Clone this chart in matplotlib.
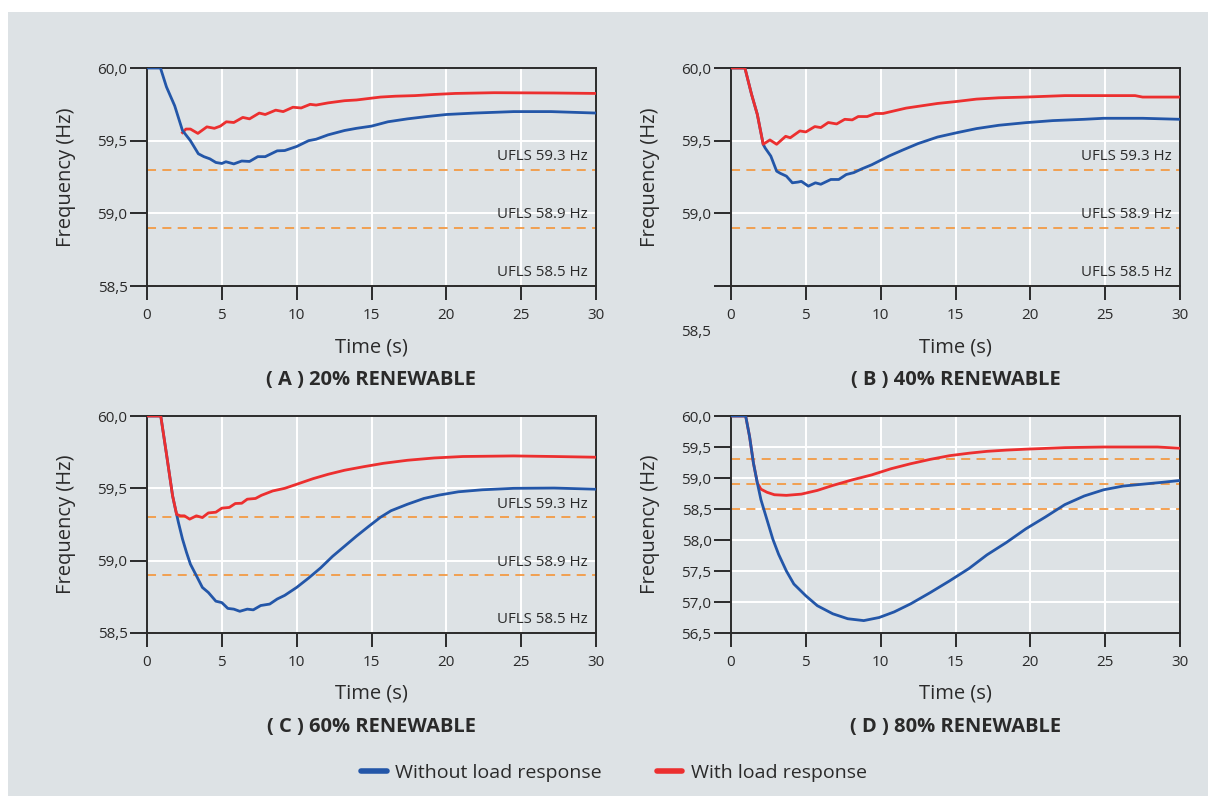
import matplotlib
matplotlib.use("Agg")
import matplotlib.pyplot as plt
from matplotlib.lines import Line2D

plt.rcParams['font.family'] = ['Open Sans', 'DejaVu Sans']

# ---------------- data ----------------
A_blue_t = [0, 0.9, 1.3, 1.85, 2.37, 2.9, 3.43, 3.8, 4.2, 4.6, 5.0, 5.27, 5.8, 6.33, 6.85, 7.4, 7.9, 8.7, 9.2, 10,
            10.8, 11.3, 12.1, 13.2, 14, 15, 16.1, 17.4, 18.7, 20, 21.9, 24.5, 27, 30]
A_blue_f = [60, 60, 59.87, 59.74, 59.57, 59.50, 59.41, 59.39, 59.375, 59.35, 59.343, 59.355, 59.34, 59.36, 59.357,
            59.39, 59.39, 59.43, 59.432, 59.46, 59.50, 59.51, 59.54, 59.57, 59.585, 59.60, 59.63, 59.65, 59.666,
            59.68, 59.69, 59.70, 59.70, 59.69]
A_red_t = [2.37, 2.6, 2.9, 3.4, 4.0, 4.5, 4.9, 5.3, 5.8, 6.4, 6.85, 7.5, 7.9, 8.6, 9.1, 9.75, 10.3, 10.9,
           11.3, 12.1, 13.2, 14, 14.8, 15.6, 16.6, 17.9, 19.2, 20.6, 23.2, 27.2, 30]
A_red_f = [59.555, 59.58, 59.58, 59.55, 59.595, 59.585, 59.60, 59.63, 59.625, 59.66, 59.65, 59.69, 59.68,
           59.71, 59.70, 59.73, 59.725, 59.75, 59.745, 59.76, 59.775, 59.78, 59.79, 59.80, 59.806, 59.81, 59.818,
           59.825, 59.83, 59.828, 59.825]

B_blue_t = [0, 0.93, 1.37, 1.76, 2.15, 2.28, 2.66, 3.05, 3.3, 3.7, 4.1, 4.47, 4.7, 5.17, 5.64, 6.0, 6.67, 7.2, 7.7,
            8.2, 8.74, 9.4, 9.9, 10.55, 11.46, 12.5, 13.8, 15.1, 16.4, 17.9, 19.7, 21.5, 23.6, 24.9, 27.5, 30]
B_blue_f = [60, 60, 59.82, 59.68, 59.475, 59.45, 59.394, 59.29, 59.275, 59.256, 59.21, 59.215, 59.22, 59.187,
            59.21, 59.20, 59.233, 59.233, 59.267, 59.28, 59.306, 59.334, 59.36, 59.394, 59.435, 59.48, 59.525,
            59.555, 59.583, 59.606, 59.624, 59.638, 59.647, 59.654, 59.654, 59.647]
B_red_t = [0, 0.93, 1.37, 1.76, 2.15, 2.6, 3.05, 3.65, 3.96, 4.6, 5.0, 5.6, 6.0, 6.5, 7.06, 7.6, 8.1, 8.5, 9.1,
           9.65, 10.16, 10.9, 11.7, 12.75, 13.8, 15.1, 16.4, 17.9, 19.7, 22.3, 27, 27.5, 30]
B_red_f = [60, 60, 59.82, 59.68, 59.475, 59.505, 59.475, 59.53, 59.52, 59.567, 59.56, 59.597, 59.59, 59.625,
           59.615, 59.647, 59.643, 59.666, 59.666, 59.687, 59.687, 59.705, 59.724, 59.74, 59.756, 59.77, 59.786,
           59.795, 59.80, 59.81, 59.81, 59.80, 59.80]

C_blue_t = [0, 0.92, 1.32, 1.71, 1.9, 2.1, 2.37, 2.64, 2.9, 3.3, 3.7, 4.1, 4.6, 5.0, 5.4, 5.8, 6.2, 6.7, 7.1, 7.6,
            8.2, 8.7, 9.2, 10.0, 10.8, 11.6, 12.4, 13.2, 14.0, 14.8, 15.6, 16.3, 17.4, 18.5, 19.5, 20.8, 22.4,
            24.5, 27.2, 30]
C_blue_f = [60, 60, 59.724, 59.448, 59.356, 59.264, 59.15, 59.057, 58.976, 58.896, 58.815, 58.78, 58.72, 58.71,
            58.67, 58.665, 58.65, 58.665, 58.66, 58.69, 58.70, 58.735, 58.76, 58.815, 58.88, 58.95, 59.03, 59.10,
            59.17, 59.236, 59.30, 59.345, 59.39, 59.43, 59.453, 59.476, 59.49, 59.50, 59.502, 59.494]
C_red_t = [0, 0.92, 1.32, 1.71, 1.98, 2.24, 2.5, 2.85, 3.3, 3.7, 4.1, 4.6, 5.0, 5.5, 5.9, 6.33, 6.7, 7.25, 7.65,
           8.4, 9.2, 10.0, 11.1, 12.1, 13.2, 14.5, 15.8, 17.4, 19.2, 21.1, 24.5, 27.2, 30]
C_red_f = [60, 60, 59.724, 59.448, 59.32, 59.31, 59.31, 59.287, 59.31, 59.298, 59.33, 59.335, 59.363, 59.368,
           59.395, 59.397, 59.425, 59.43, 59.452, 59.482, 59.50, 59.528, 59.567, 59.597, 59.625, 59.65, 59.673,
           59.694, 59.71, 59.72, 59.724, 59.72, 59.715]

D_blue_t = [0, 0.98, 1.24, 1.5, 1.76, 2.0, 2.4, 2.8, 3.18, 3.7, 4.2, 5.0, 5.77, 6.8, 7.8, 8.87, 9.9, 10.9, 12.0,
            13.3, 14.6, 15.9, 17.1, 18.4, 19.7, 21.0, 22.3, 23.6, 24.9, 26.2, 27.5, 28.8, 30]
D_blue_f = [60, 60, 59.67, 59.24, 58.92, 58.65, 58.33, 58.01, 57.77, 57.50, 57.29, 57.10, 56.94, 56.81, 56.73,
            56.70, 56.75, 56.84, 56.97, 57.15, 57.34, 57.54, 57.76, 57.96, 58.18, 58.37, 58.57, 58.71, 58.81,
            58.87, 58.90, 58.93, 58.96]
D_red_t = [0, 0.98, 1.24, 1.5, 1.76, 2.0, 2.4, 2.9, 3.7, 4.7, 5.77, 6.8, 8.1, 9.4, 10.7, 12.0, 13.3, 14.6, 15.9,
           17.1, 18.4, 19.7, 22.3, 24.9, 28.5, 30]
D_red_f = [60, 60, 59.67, 59.24, 58.92, 58.82, 58.77, 58.73, 58.72, 58.74, 58.80, 58.88, 58.97, 59.05, 59.15,
           59.23, 59.30, 59.36, 59.40, 59.43, 59.45, 59.465, 59.49, 59.50, 59.50, 59.48]

titles = ["( A ) 20% RENEWABLE", "( B ) 40% RENEWABLE", "( C ) 60% RENEWABLE", "( D ) 80% RENEWABLE"]
ufls_levels = [59.3, 58.9, 58.5]
ufls_labels = ["UFLS 59.3 Hz", "UFLS 58.9 Hz", "UFLS 58.5 Hz"]
x_ticks = [0, 5, 10, 15, 20, 25, 30]
y_ticks_small = [58.5, 59.0, 59.5, 60.0]
y_ticks_D = [56.5, 57.0, 57.5, 58.0, 58.5, 59.0, 59.5, 60.0]
legend_labels = ["Without load response", "With load response"]

# ---------------- style ----------------
BG = '#dde2e5'
BLUE = '#2356a8'
RED = '#ec2f2f'
ORANGE = '#f39a45'
DARK = '#2b2b2b'
TXT = '#2a2a2a'

W, H = 1208, 796
fig = plt.figure(figsize=(W / 100, H / 100), dpi=100)
fig.patch.set_facecolor('white')
fig.patches.append(plt.Rectangle((8 / W, 0), 1 - 8 / W, 1 - 12 / H, transform=fig.transFigure,
                                 facecolor=BG, edgecolor='none', zorder=-10))


def fpos(l, r, t, b):
    return [l / W, 1 - b / H, (r - l) / W, (b - t) / H]


panels = [
    dict(pos=fpos(147, 596, 68, 286), blue=(A_blue_t, A_blue_f), red=(A_red_t, A_red_f), ylim=(58.5, 60.0),
         yt=y_ticks_small, labels=True, blue_top=True),
    dict(pos=fpos(731, 1180, 68, 286), blue=(B_blue_t, B_blue_f), red=(B_red_t, B_red_f), ylim=(58.5, 60.0),
         yt=y_ticks_small, labels=True, blue_top=False),
    dict(pos=fpos(147, 596, 416, 633), blue=(C_blue_t, C_blue_f), red=(C_red_t, C_red_f), ylim=(58.5, 60.0),
         yt=y_ticks_small, labels=True, blue_top=False),
    dict(pos=fpos(731, 1180, 416, 633), blue=(D_blue_t, D_blue_f), red=(D_red_t, D_red_f), ylim=(56.5, 60.0),
         yt=y_ticks_D, labels=False, blue_top=True),
]

for i, p in enumerate(panels):
    ax = fig.add_axes(p['pos'])
    ax.set_facecolor(BG)
    ax.set_xlim(0, 30)
    ax.set_ylim(*p['ylim'])
    ax.set_xticks(x_ticks)
    ax.set_yticks(p['yt'])
    ax.set_xticklabels([str(v) for v in x_ticks])
    ylabels = [f"{v:.1f}".replace('.', ',') for v in p['yt']]
    if i == 1:
        ylabels[0] = ''
        ax.text(-0.045, -0.215, "58,5", transform=ax.transAxes, ha='right', va='center',
                fontsize=11, color=TXT)
    ax.set_yticklabels(ylabels)
    ax.grid(True, color='white', lw=1.4, zorder=0)
    ax.set_axisbelow(True)
    for s in ax.spines.values():
        s.set_color(DARK)
        s.set_linewidth(1.4)
        s.set_zorder(3)
    ax.tick_params(axis='both', direction='out', color=DARK, width=1.4, labelsize=11, labelcolor=TXT)
    ax.tick_params(axis='y', length=12, pad=2)
    ax.tick_params(axis='x', length=10, pad=6)
    for lab in ax.get_yticklabels():
        lab.set_va('center_baseline')

    for lev in ufls_levels:
        ax.axhline(lev, color=ORANGE, lw=1.3, dashes=(5, 3.5), zorder=1)
    if p['labels']:
        for lev, lab in zip(ufls_levels, ufls_labels):
            ax.annotate(lab, xy=(0.982, lev), xycoords=('axes fraction', 'data'), xytext=(0, 4),
                        textcoords='offset points', ha='right', va='bottom', fontsize=10.8, color=TXT)

    zb, zr = (5, 4) if p['blue_top'] else (4, 5)
    ax.plot(*p['blue'], color=BLUE, lw=2.0, zorder=zb, solid_joinstyle='round')
    ax.plot(*p['red'], color=RED, lw=2.0, zorder=zr, solid_joinstyle='round')

    ax.set_xlabel("Time (s)", fontsize=14.5, color=TXT)
    ax.xaxis.label.set_va('center')
    ax.xaxis.set_label_coords(0.5, -0.28)
    ax.set_ylabel("Frequency (Hz)", fontsize=14.5, color=TXT)
    ax.yaxis.label.set_va('center')
    ax.yaxis.set_label_coords(-0.18, 0.5)
    ax.text(0.5, -0.432, titles[i], transform=ax.transAxes, ha='center', va='center',
            fontsize=14.5, fontweight='bold', color=TXT)

handles = [Line2D([], [], color=BLUE, lw=4, solid_capstyle='round'),
           Line2D([], [], color=RED, lw=4, solid_capstyle='round')]
fig.legend(handles, legend_labels, loc='center', bbox_to_anchor=(614 / W, 1 - 773 / H), ncol=2, frameon=False,
           fontsize=14, handlelength=1.3, handletextpad=0.45, columnspacing=2.8, labelcolor=TXT)

fig.savefig('out.png', dpi=100, facecolor='white')
